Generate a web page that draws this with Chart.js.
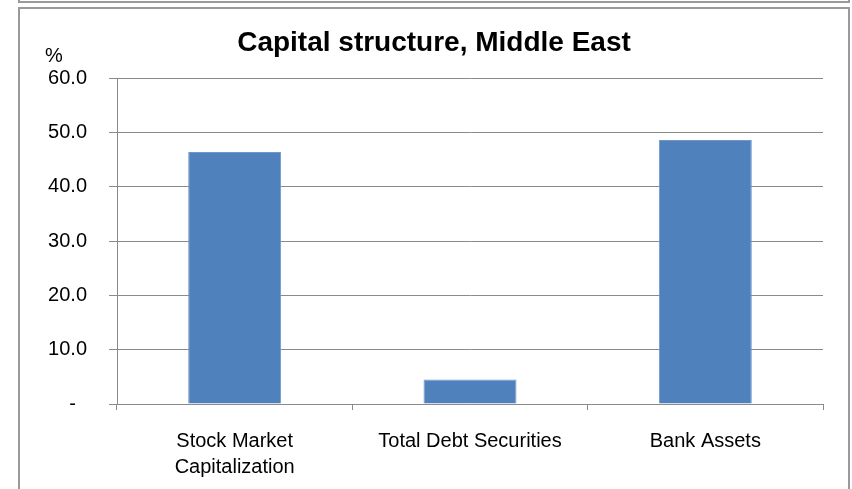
<!DOCTYPE html>
<html>
<head>
<meta charset="utf-8">
<script src="https://cdn.jsdelivr.net/npm/chart.js@4.4.1/dist/chart.umd.min.js"></script>
<style>
  html, body { margin: 0; padding: 0; background: #ffffff; }
  #wrap { width: 852px; height: 489px; position: relative; }
  canvas { display: block; }
</style>
</head>
<body>
<div id="wrap"><canvas id="c" width="852" height="489"></canvas></div>
<script>
const categories = [["Stock Market", "Capitalization"], "Total Debt Securities", "Bank Assets"];
const values = [46.4, 4.5, 48.6];
const yTicks = [0, 10, 20, 30, 40, 50, 60];
const titleText = "Capital structure, Middle East";
const unitText = "%";

const FONT = "'Liberation Sans', Arial, sans-serif";

const decor = {
  id: 'decor',
  beforeDraw(chart) {
    const ctx = chart.ctx;
    ctx.save();
    ctx.fillStyle = '#ffffff';
    ctx.fillRect(0, 0, chart.width, chart.height);
    ctx.strokeStyle = '#9a9a9a';
    ctx.lineWidth = 2;
    // upper box bottom edge
    ctx.beginPath();
    ctx.moveTo(19, 0);
    ctx.lineTo(19, 2);
    ctx.lineTo(849, 2);
    ctx.lineTo(849, 0);
    ctx.stroke();
    // chart frame
    ctx.beginPath();
    ctx.moveTo(19, 495);
    ctx.lineTo(19, 8);
    ctx.lineTo(849, 8);
    ctx.lineTo(849, 495);
    ctx.stroke();
    ctx.restore();
  },
  afterDraw(chart) {
    const ctx = chart.ctx;
    ctx.save();
    ctx.fillStyle = '#000000';
    ctx.font = "bold 28px " + FONT;
    ctx.textAlign = 'center';
    ctx.textBaseline = 'middle';
    ctx.fillText(titleText, 434, 43);
    ctx.font = "20px " + FONT;
    ctx.textAlign = 'left';
    ctx.fillText(unitText, 45, 56);
    ctx.restore();
  }
};

new Chart(document.getElementById('c'), {
  type: 'bar',
  data: {
    labels: categories,
    datasets: [{
      data: values,
      backgroundColor: '#4F81BD',
      borderColor: '#6f98c9',
      borderWidth: 1,
      barPercentage: 0.395,
      categoryPercentage: 1.0
    }]
  },
  options: {
    responsive: false,
    animation: false,
    devicePixelRatio: 1,
    layout: { padding: { left: 19, right: 29, top: 78, bottom: 0 } },
    plugins: {
      legend: { display: false },
      title: { display: false },
      tooltip: { enabled: false }
    },
    scales: {
      y: {
        min: 0,
        max: 60,
        afterFit(scale) { scale.width = 98; },
        afterBuildTicks(scale) { scale.ticks = yTicks.map(v => ({ value: v })); },
        ticks: {
          padding: 22,
          color: '#000000',
          font: { family: FONT, size: 20 },
          callback: (v) => v === 0 ? '-  ' : Number(v).toFixed(1)
        },
        grid: {
          color: '#8a8a8a',
          lineWidth: 1,
          tickLength: 8,
          drawTicks: true
        },
        border: { display: true, color: '#8a8a8a', width: 1 }
      },
      x: {
        afterFit(scale) { scale.height = 85; },
        ticks: {
          padding: 18,
          color: '#000000',
          font: { family: FONT, size: 20, lineHeight: 1.3 },
          maxRotation: 0,
          autoSkip: false
        },
        grid: {
          offset: true,
          drawOnChartArea: false,
          drawTicks: true,
          tickLength: 6,
          color: '#8a8a8a'
        },
        border: { display: true, color: '#8a8a8a', width: 1 }
      }
    }
  },
  plugins: [decor]
});
</script>
</body>
</html>
